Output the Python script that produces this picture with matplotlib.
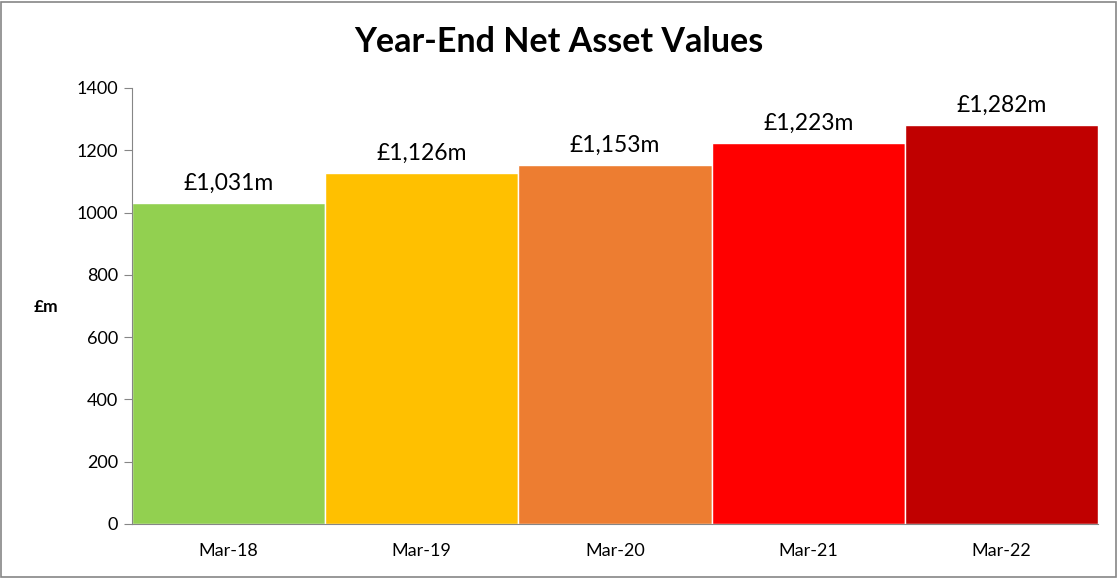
import matplotlib
matplotlib.use("Agg")
import matplotlib.pyplot as plt
from matplotlib.patches import Rectangle

categories = ["Mar-18", "Mar-19", "Mar-20", "Mar-21", "Mar-22"]
values = [1031, 1126, 1153, 1223, 1282]
labels = ["£1,031m", "£1,126m", "£1,153m", "£1,223m", "£1,282m"]
colors = ["#92D050", "#FFC000", "#ED7D31", "#FF0000", "#C00000"]
yticks = [0, 200, 400, 600, 800, 1000, 1200, 1400]

plt.rcParams['font.family'] = ['Lato', 'DejaVu Sans']

fig = plt.figure(figsize=(11.18, 5.78), dpi=100)
ax = fig.add_axes([132/1118, 1-524/578, (1098-132)/1118, (524-88)/578])

x = list(range(len(categories)))
ax.bar(x, values, width=1.0, color=colors, edgecolor="white", linewidth=1)
for xi, v, lab in zip(x, values, labels):
    ax.text(xi, v + 30, lab, ha="center", va="bottom", fontsize=16.5)

ax.set_xlim(-0.5, len(categories) - 0.5)
ax.set_ylim(0, 1400)
ax.set_yticks(yticks)
ax.set_yticklabels([str(t) for t in yticks], fontsize=13)
ax.set_xticks(x)
ax.set_xticklabels(categories, fontsize=13)
ax.tick_params(axis="x", length=0, pad=14)
ax.tick_params(axis="y", length=6, color="#868686", pad=4)
for s in ["top", "right"]:
    ax.spines[s].set_visible(False)
ax.spines["left"].set_color("#868686")
ax.spines["bottom"].set_color("#868686")

fig.text(34/1118, 1-307/578, "£m", fontsize=12.5, fontweight="bold", ha="left", va="center")
fig.text(559/1118, 1-42/578, "Year-End Net Asset Values", fontsize=24.5, fontweight="bold", ha="center", va="center")

fig.patches.append(Rectangle((0.001, 0.002), 0.997, 0.995, transform=fig.transFigure,
                             fill=False, edgecolor="#868686", linewidth=1.2))

fig.savefig("out.png", dpi=100)
